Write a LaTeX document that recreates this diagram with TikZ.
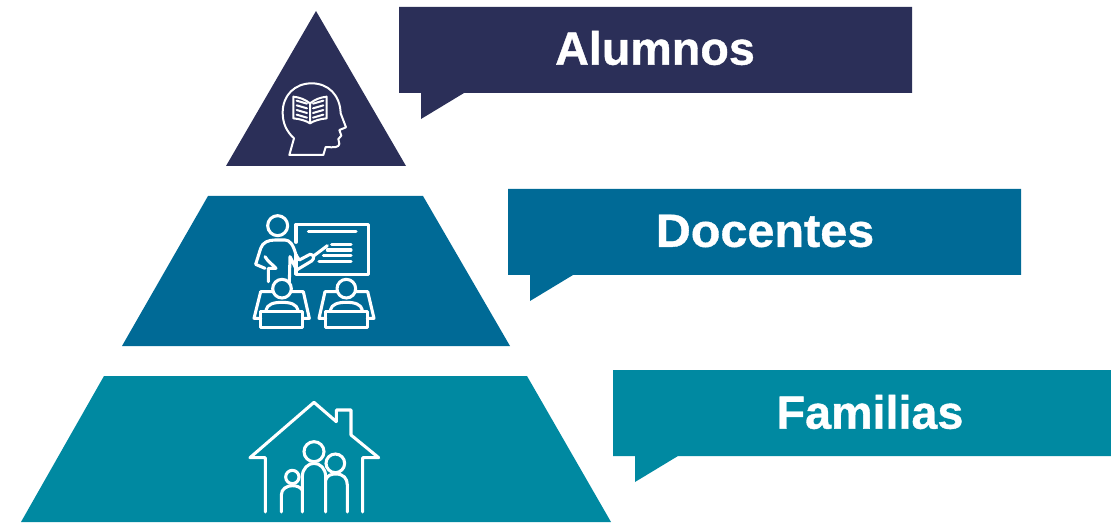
\documentclass[tikz,border=0pt]{standalone}
\usepackage{fontspec}
\setmainfont{Liberation Sans}[BoldFeatures={FakeBold=0.8}]
\definecolor{navy}{HTML}{2B2F58}
\definecolor{blueb}{HTML}{006A96}
\definecolor{tealc}{HTML}{0089A1}
\tikzset{
  label text/.style={text=white,font=\fontsize{35}{40}\selectfont\bfseries,inner sep=0pt},
  ic/.style={draw=white,line width=2.3pt,line join=round,line cap=round,fill=none},
  icthin/.style={draw=white,line width=1.5pt,line join=round,line cap=round,fill=none}
}
\begin{document}
\begin{tikzpicture}[x=0.75pt,y=-0.75pt]
\useasboundingbox (0,0) rectangle (1111,524);
% pyramid
\fill[navy] (316,11) -- (406,166) -- (226,166) -- cycle;
\fill[blueb] (208,196) -- (423,196) -- (510,346) -- (122,346) -- cycle;
\fill[tealc] (104,376) -- (527,376) -- (611,522) -- (21,522) -- cycle;
% callouts
\fill[navy] (399,7) -- (912,7) -- (912,93) -- (464,93) -- (421,119) -- (421,93) -- (399,93) -- cycle;
\fill[blueb] (508,189) -- (1021,189) -- (1021,275) -- (573,275) -- (530,301) -- (530,275) -- (508,275) -- cycle;
\fill[tealc] (613,370) -- (1111,370) -- (1111,456) -- (678,456) -- (635,482) -- (635,456) -- (613,456) -- cycle;
\node[label text] (alumnos) at (655,48) {Alumnos};
\node[label text,xscale=1.04] (docentes) at (765,231) {Docentes};
\node[label text] (familias) at (870,412) {Familias};
% head icon
\begin{scope}[shift={(260,70)},x=0.25pt,y=-0.25pt]
\draw[icthin] (88,255) -- (102,205) .. controls (80,185) and (68,160) .. (68,128)
  .. controls (68,75) and (105,40) .. (155,40)
  .. controls (205,40) and (240,75) .. (242,130)
  -- (258,172) -- (238,180) -- (244,197) -- (235,207) -- (238,222)
  .. controls (236,232) and (225,233) .. (197,231) -- (190,255) -- cycle;
\draw[icthin] (150,100) .. controls (135,88) and (118,82) .. (100,80) -- (100,145)
  .. controls (120,147) and (138,152) .. (150,160)
  .. controls (162,152) and (180,147) .. (200,145) -- (200,80)
  .. controls (182,82) and (165,88) .. (150,100) -- (150,160);
\foreach \dy in {0,14,28,42}{
  \draw[icthin] (110,{92+\dy}) -- (141,{101+\dy});
  \draw[icthin] (190,{92+\dy}) -- (159,{101+\dy});
}
\end{scope}
% teacher icon
\begin{scope}[shift={(240,205)},x=0.25pt,y=-0.25pt]
\draw[ic] (113,62) circle (30);
\draw[ic] (168,112) -- (168,58) -- (386,58) -- (386,208) -- (168,208) -- (168,150);
\draw[ic] (205,80) -- (348,80);
\draw[ic] (275,118) -- (333,118);
\draw[ic] (262,135) -- (333,135);
\draw[ic] (250,152) -- (333,152);
\draw[ic] (237,170) -- (333,170);
\draw[ic] (222,152) -- (262,122);
\draw[ic] (85,230) -- (85,190) -- (108,190) .. controls (98,178) and (85,172) .. (75,155);
\draw[ic] (75,190) -- (47,178) -- (62,130) .. controls (68,112) and (85,105) .. (105,105)
  -- (135,105) .. controls (150,105) and (160,120) .. (168,150) -- (178,165) -- (210,148)
  .. controls (222,148) and (225,160) .. (215,168) -- (170,195) -- (150,155) -- (148,232);
% student left
\draw[ic] (126,251) circle (28);
\draw[ic] (98,260) -- (62,260) -- (42,340) -- (62,340);
\draw[ic] (154,260) -- (190,260) -- (208,340) -- (188,340);
\draw[ic] (78,315) .. controls (82,298) and (100,292) .. (126,292) .. controls (152,292) and (170,298) .. (174,315);
\draw[ic] (62,320) -- (188,320) -- (188,367) -- (62,367) -- cycle;
% student right
\draw[ic] (319,251) circle (28);
\draw[ic] (291,260) -- (255,260) -- (237,340) -- (257,340);
\draw[ic] (347,260) -- (383,260) -- (402,340) -- (382,340);
\draw[ic] (271,315) .. controls (275,298) and (293,292) .. (319,292) .. controls (345,292) and (363,298) .. (367,315);
\draw[ic] (257,320) -- (382,320) -- (382,367) -- (257,367) -- cycle;
\end{scope}
% house icon
\begin{scope}[shift={(240,395)},x=0.25pt,y=-0.25pt]
\draw[ic] (76,351) -- (76,188) -- (30,188) -- (222,22) -- (289,80) -- (289,45) -- (333,45) -- (333,120) -- (416,188) -- (368,188) -- (368,351);
\draw[ic] (222,170) circle (30);
\draw[ic] (286,205) circle (28);
\draw[ic] (157,246) circle (20);
\draw[ic] (187,351) -- (187,245) .. controls (187,220) and (205,205) .. (222,205) .. controls (240,205) and (257,220) .. (257,245) -- (257,351);
\draw[ic] (257,255) .. controls (262,240) and (275,237) .. (288,237) .. controls (310,237) and (322,250) .. (322,270) -- (322,351);
\draw[ic] (124,351) -- (124,300) .. controls (124,282) and (140,272) .. (157,272) .. controls (170,272) and (180,276) .. (187,285);
\end{scope}
\end{tikzpicture}
\end{document}
